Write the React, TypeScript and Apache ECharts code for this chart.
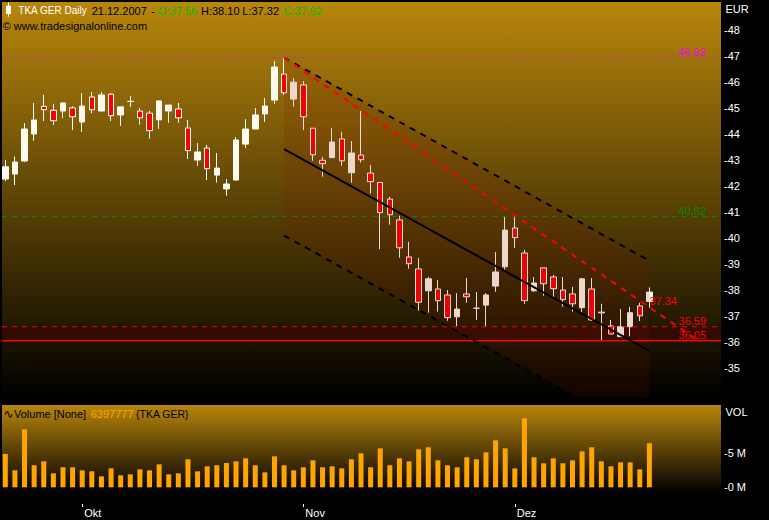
import React, { useEffect, useRef } from "react";
import * as echarts from "echarts";

// ---- data ----
const opens = [42.26, 42.45, 42.95, 43.99, 45.05, 44.90, 44.87, 44.99, 44.45, 45.41, 44.87, 45.52, 44.72, 45.24, 44.87, 44.79, 44.53, 44.87, 44.95, 44.22, 42.99, 43.45, 42.41, 41.88, 42.22, 43.60, 44.18, 44.76, 45.29, 46.29, 45.33, 45.87, 44.21, 42.98, 43.08, 43.80, 42.50, 43.18, 42.49, 42.13, 41.49, 40.69, 39.27, 38.81, 37.97, 38.04, 37.81, 36.97, 37.85, 37.30, 37.42, 38.15, 38.89, 40.38, 39.42, 37.97, 38.85, 38.50, 38.00, 37.85, 37.32, 38.04, 37.15, 36.62, 36.21, 36.59, 37.39, 37.56];
const highs = [42.99, 43.12, 44.41, 45.18, 45.49, 45.14, 45.20, 45.06, 45.56, 45.60, 45.60, 45.56, 45.03, 45.45, 44.99, 44.87, 45.26, 45.10, 45.18, 44.53, 43.64, 43.57, 43.26, 42.26, 43.87, 44.56, 44.99, 45.37, 46.79, 46.92, 46.14, 46.02, 44.21, 43.11, 44.22, 44.07, 43.72, 44.87, 42.80, 42.13, 41.58, 40.85, 39.85, 39.23, 38.51, 38.38, 38.00, 37.88, 38.46, 37.92, 37.88, 39.46, 40.81, 40.82, 39.54, 38.50, 38.85, 38.58, 38.50, 38.12, 38.46, 38.46, 37.47, 36.85, 37.27, 37.35, 37.51, 38.10];
const lows = [42.18, 42.03, 42.91, 43.73, 44.49, 44.33, 44.60, 44.14, 44.07, 44.79, 44.87, 44.49, 44.30, 45.03, 44.35, 43.81, 44.19, 44.42, 44.42, 43.03, 42.76, 42.22, 42.12, 41.62, 42.22, 43.45, 44.18, 44.45, 45.14, 45.49, 45.04, 44.14, 42.96, 42.35, 43.08, 42.77, 42.12, 42.89, 41.71, 39.57, 40.51, 39.24, 38.82, 37.21, 37.13, 37.17, 36.82, 36.59, 37.51, 36.85, 36.59, 37.93, 38.77, 39.62, 37.47, 37.93, 37.78, 37.74, 37.36, 37.17, 37.11, 36.82, 36.05, 36.31, 36.21, 36.23, 36.81, 37.32];
const closes = [42.73, 42.91, 44.18, 44.53, 44.92, 44.50, 45.18, 44.65, 45.06, 44.92, 45.49, 44.69, 45.03, 45.24, 44.61, 44.12, 45.26, 45.10, 44.61, 43.35, 43.30, 42.66, 42.68, 42.07, 43.76, 44.18, 44.72, 45.06, 46.56, 45.57, 45.98, 44.65, 43.19, 42.85, 43.68, 42.96, 43.26, 43.00, 42.16, 40.97, 40.89, 39.62, 39.01, 37.53, 38.43, 37.59, 36.94, 37.27, 37.74, 37.30, 37.81, 38.69, 40.30, 40.01, 37.59, 38.27, 38.24, 38.05, 37.63, 37.47, 38.43, 36.85, 37.12, 36.31, 36.59, 37.13, 37.01, 37.92];
// volume in millions of shares
const volumes = [4.83, 2.46, 8.41, 3.19, 3.77, 2.03, 2.90, 2.90, 2.46, 2.32, 1.59, 2.75, 1.74, 1.88, 2.61, 2.46, 3.33, 1.88, 2.03, 4.06, 2.32, 3.04, 3.19, 3.52, 3.77, 4.20, 3.19, 2.17, 4.49, 3.19, 2.46, 2.90, 3.91, 2.90, 3.04, 2.75, 4.06, 4.93, 2.90, 5.65, 3.19, 4.20, 3.77, 5.51, 5.80, 3.91, 3.19, 2.90, 4.35, 4.06, 5.07, 6.81, 5.65, 2.75, 10.0, 4.35, 3.48, 4.20, 3.48, 3.91, 5.22, 5.80, 3.77, 3.04, 3.62, 3.62, 2.61, 6.398];

const firstDay = "2007-09-19";
const slotCount = 75;
const monthNames: Record<number, string> = { 9: "Okt", 10: "Nov", 11: "Dez" };

const priceTicks = [35, 36, 37, 38, 39, 40, 41, 42, 43, 44, 45, 46, 47, 48];
const volumeTicks = [0, 5];

// horizontal levels
const levelHigh = 46.92;
const levelGreen = 40.82;
const levelResist = 36.59;
const levelSupport = 36.05;

// regression channel (bar index, price)
const channelX = [29, 67];
const channelUpper = [46.92, 39.12];
const channelMid = [43.41, 35.66];
const channelLower = [40.09, 32.33];
// red trend line
const trendX = [29, 67, 72.1];
const trendY = [46.92, 37.34, 36.05];

// ---- layout ----
const FONT = '"Liberation Sans", Arial, sans-serif';
const priceMin = 33.854;
const priceMax = 49.056;
const volMin = -1.84;
const volMax = 11.93;
const lineStartX = -0.34;
const lineEndX = 74.14;
const supportEndX = 74.46;

function tradingDays(start: string, n: number): string[] {
  const out: string[] = [];
  const d = new Date(start + "T12:00:00Z");
  while (out.length < n) {
    const wd = d.getUTCDay();
    if (wd !== 0 && wd !== 6) out.push(d.toISOString().slice(0, 10));
    d.setUTCDate(d.getUTCDate() + 1);
  }
  return out;
}

const dates = tradingDays(firstDay, slotCount);
const monthStarts = new Set<number>();
dates.forEach((d, i) => {
  if (i > 0 && i < opens.length && d.slice(5, 7) !== dates[i - 1].slice(5, 7)) monthStarts.add(i);
});

function levelSeries(value: number, endX: number, color: string, type: any, width: number, labelText: string) {
  return {
    type: "line",
    xAxisIndex: 1,
    yAxisIndex: 0,
    z: 4,
    silent: true,
    symbol: "circle",
    symbolSize: 0,
    showSymbol: true,
    lineStyle: { color, type, width },
    data: [
      [lineStartX, value],
      {
        value: [endX, value],
        label: {
          show: true,
          position: "left",
          distance: 12 + (endX - lineEndX) * 9.61,
          offset: [0, -6],
          formatter: labelText,
          color,
          fontFamily: FONT,
          fontSize: 11,
        },
      },
    ],
  };
}

function channelSeries(ys: number[], type: any) {
  return {
    type: "line",
    xAxisIndex: 1,
    yAxisIndex: 0,
    z: 4,
    silent: true,
    symbol: "none",
    lineStyle: { color: "#000", type, width: 2 },
    data: channelX.map((x, i) => [x, ys[i]]),
  };
}

function buildOption() {
  const txt = (text: string, x: number, y: number, fill: string, size = 11, family = FONT) => ({
    type: "text",
    x,
    y,
    z: 100,
    silent: true,
    style: { text, fill, fontSize: size, fontFamily: family, align: "left", verticalAlign: "middle" },
  });
  return {
    animation: false,
    backgroundColor: "#000",
    grid: [
      { left: 0.5, top: 2, width: 721, height: 396 },
      { left: 0.5, top: 405, width: 721, height: 95 },
    ],
    xAxis: [
      { type: "category", gridIndex: 0, data: dates, boundaryGap: true, show: false },
      { type: "value", gridIndex: 0, min: -0.5, max: slotCount - 0.5, show: false },
      {
        type: "category",
        gridIndex: 1,
        data: dates,
        boundaryGap: true,
        position: "bottom",
        offset: 4,
        axisLine: { show: false, onZero: false },
        axisTick: {
          show: true,
          alignWithLabel: true,
          length: 3,
          interval: (i: number) => monthStarts.has(i),
          lineStyle: { color: "#fff", width: 1 },
        },
        axisLabel: {
          interval: (i: number) => monthStarts.has(i),
          formatter: (v: string) => monthNames[Number(v.slice(5, 7)) - 1] || "",
          color: "#fff",
          fontFamily: FONT,
          fontSize: 11,
          align: "left",
          margin: 3,
          padding: [0, 0, 0, 2],
        },
        splitLine: { show: false },
      },
    ],
    yAxis: [
      {
        type: "value",
        gridIndex: 0,
        position: "right",
        min: priceMin,
        max: priceMax,
        splitLine: { show: false },
        axisLine: { show: false },
        axisTick: { show: false },
        axisLabel: {
          customValues: priceTicks,
          formatter: (v: number) => "-" + v,
          color: "#fff",
          fontFamily: FONT,
          fontSize: 11,
          margin: 2.5,
        },
      },
      {
        type: "value",
        gridIndex: 1,
        position: "right",
        min: volMin,
        max: volMax,
        splitLine: { show: false },
        axisLine: { show: false },
        axisTick: { show: false },
        axisLabel: {
          customValues: volumeTicks,
          formatter: (v: number) => "-" + v + " M",
          color: "#fff",
          fontFamily: FONT,
          fontSize: 11,
          margin: 2.5,
        },
      },
    ],
    graphic: [
      {
        type: "rect",
        z: -5,
        silent: true,
        shape: { x: 2, y: 2, width: 719, height: 396 },
        style: {
          fill: new echarts.graphic.LinearGradient(0, 0, 0, 1, [
            { offset: 0, color: "#b8860b" },
            { offset: 1, color: "#000000" },
          ]),
        },
      },
      {
        type: "rect",
        z: -5,
        silent: true,
        shape: { x: 2, y: 405, width: 719, height: 95 },
        style: {
          fill: new echarts.graphic.LinearGradient(0, 0, 0, 1, [
            { offset: 0, color: "#b8860b" },
            { offset: 0.9, color: "#050300" },
            { offset: 1, color: "#000000" },
          ]),
        },
      },
      // header candle icon
      { type: "line", z: 100, silent: true, shape: { x1: 8.5, y1: 2.7, x2: 8.5, y2: 16.7 }, style: { stroke: "#fff", lineWidth: 1 } },
      { type: "rect", z: 100, silent: true, shape: { x: 6, y: 5.7, width: 5, height: 8.3 }, style: { fill: "#fff" } },
      txt("TKA GER Daily", 18.3, 10.5, "#fff", 10),
      txt("21.12.2007", 91.7, 10.5, "#000"),
      txt("-", 151, 10.5, "#000"),
      txt("O:37.56", 158, 10.5, "#00c000"),
      txt("H:38.10", 201, 10.5, "#000"),
      txt("L:37.32", 242.3, 10.5, "#000"),
      txt("C:37.92", 283.3, 10.5, "#00c000"),
      txt("\u00a9 www.tradesignalonline.com", 2.7, 26.3, "#000"),
      txt("\u223f", 3.5, 413.5, "#000", 12, '"DejaVu Sans", sans-serif'),
      txt("Volume [None]", 14, 413.5, "#000"),
      txt("6397777", 90.7, 413.5, "#ffa500"),
      txt("{TKA GER}", 136, 413.5, "#000", 10.5),
      txt("EUR", 725.5, 9.3, "#fff"),
      txt("VOL", 725.5, 412.3, "#fff"),
    ],
    series: [
      {
        type: "custom",
        xAxisIndex: 1,
        yAxisIndex: 0,
        z: 1,
        silent: true,
        data: [[lineStartX, levelResist]],
        renderItem: (_p: any, api: any) => {
          const a = api.coord([-0.5, levelResist]);
          const b = api.coord([slotCount - 0.5, levelSupport]);
          return {
            type: "rect",
            shape: { x: a[0], y: a[1], width: b[0] - a[0], height: b[1] - a[1] },
            style: { fill: "rgba(70,0,5,0.45)" },
          };
        },
      },
      {
        type: "candlestick",
        xAxisIndex: 0,
        yAxisIndex: 0,
        z: 2,
        silent: true,
        barWidth: 6,
        data: opens.map((o, i) => [o, closes[i], lows[i], highs[i]]),
        itemStyle: {
          color: "#fffaf0",
          color0: "#ff0000",
          borderColor: "#fffaf0",
          borderColor0: "#ffffff",
          borderWidth: 1,
        },
      },
      {
        type: "custom",
        xAxisIndex: 1,
        yAxisIndex: 0,
        z: 3,
        silent: true,
        data: [[channelX[0], channelUpper[0]]],
        renderItem: (_p: any, api: any) => {
          // lower boundary follows the lower channel line until it leaves the panel
          const l0 = channelLower[0];
          const l1 = channelLower[1];
          const pts: number[][] = [
            api.coord([channelX[0], channelUpper[0]]),
            api.coord([channelX[1], channelUpper[1]]),
          ];
          if (l1 < priceMin) {
            const xi = channelX[0] + ((l0 - priceMin) / (l0 - l1)) * (channelX[1] - channelX[0]);
            pts.push(api.coord([channelX[1], priceMin]));
            pts.push(api.coord([xi, priceMin]));
          } else {
            pts.push(api.coord([channelX[1], l1]));
          }
          pts.push(api.coord([channelX[0], l0]));
          return { type: "polygon", shape: { points: pts }, style: { fill: "rgba(130,20,0,0.15)" } };
        },
      },
      levelSeries(levelHigh, lineEndX, "#ee00ee", [1, 2], 1, "46.92"),
      levelSeries(levelGreen, lineEndX, "#008a00", [5, 5], 1, "40.82"),
      levelSeries(levelResist, lineEndX, "#ff0000", [5, 5], 1, "36.59"),
      levelSeries(levelSupport, supportEndX, "#ff0000", "solid", 1.5, "36.05"),
      channelSeries(channelUpper, [6, 6]),
      channelSeries(channelMid, "solid"),
      channelSeries(channelLower, [6, 6]),
      {
        type: "line",
        xAxisIndex: 1,
        yAxisIndex: 0,
        z: 4,
        silent: true,
        symbol: "circle",
        symbolSize: 0,
        showSymbol: true,
        lineStyle: { color: "#ff0000", type: [6, 6], width: 2 },
        data: trendX.map((x, i) =>
          i === 1
            ? {
                value: [x, trendY[i]],
                label: { show: true, position: "right", distance: 0, offset: [0, -6], formatter: trendY[i].toFixed(2), color: "#ff0000", fontFamily: FONT, fontSize: 11 },
              }
            : [x, trendY[i]]
        ),
      },
      {
        type: "bar",
        xAxisIndex: 2,
        yAxisIndex: 1,
        silent: true,
        barWidth: 5,
        itemStyle: { color: "#ffa500" },
        data: volumes,
      },
    ],
  };
}

export default function App() {
  const ref = useRef<HTMLDivElement>(null);
  useEffect(() => {
    if (!ref.current) return;
    const chart = echarts.init(ref.current, undefined, { renderer: "svg" });
    chart.setOption(buildOption() as any);
    return () => chart.dispose();
  }, []);
  return (
    <div
      ref={ref}
      style={{ position: "absolute", left: 0, top: 0, width: 769, height: 520, background: "#000" }}
    />
  );
}
